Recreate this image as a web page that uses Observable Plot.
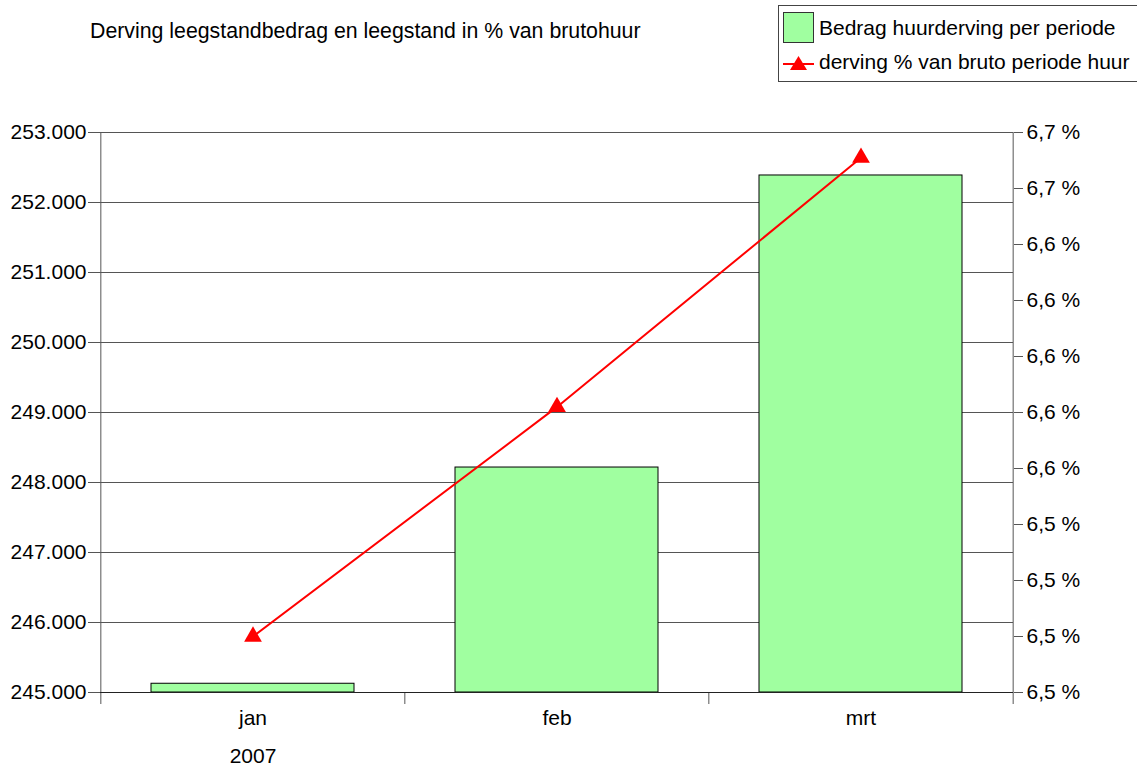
<!DOCTYPE html>
<html>
<head>
<meta charset="utf-8">
<script src="https://cdn.jsdelivr.net/npm/d3@7"></script>
<script src="https://cdn.jsdelivr.net/npm/@observablehq/plot@0.6"></script>
<style>
  html, body { margin: 0; padding: 0; background: #fff; }
  body { width: 1137px; height: 767px; position: relative; overflow: hidden; font-family: "Liberation Sans", Arial, sans-serif; }
  #title { position: absolute; left: 90px; top: 19px; font-size: 21.3px; color: #000; white-space: nowrap; }
  #legend { position: absolute; left: 778px; top: 5px; width: 370px; height: 77px; border: 1px solid #444; box-sizing: border-box; background: #fff; }
  .lrow { position: absolute; left: 4px; height: 32px; display: flex; align-items: center; font-size: 21px; white-space: nowrap; }
  #chart { position: absolute; left: 0; top: 0; }
</style>
</head>
<body>
<div id="chart"></div>
<div id="title"></div>
<div id="legend"></div>
<script>
// ---- data ----
const months = ["jan", "feb", "mrt"];
const amounts = [245125, 248214, 252386];
const percents = [6.500, 6.582, 6.671];
const yearLabel = "2007";
const leftTicks = [245000, 246000, 247000, 248000, 249000, 250000, 251000, 252000, 253000];
const rightTicks = [6.48, 6.50, 6.52, 6.54, 6.56, 6.58, 6.60, 6.62, 6.64, 6.66, 6.68];
const titleText = "Derving leegstandbedrag en leegstand in % van brutohuur";
const seriesNames = ["Bedrag huurderving per periode", "derving % van bruto periode huur"];

// ---- layout ----
const W = 1137, H = 767;
const mL = 100, mR = 124, mT = 132, mB = 75;
const step = (W - mL - mR) / months.length;
const yMin = leftTicks[0], yMax = leftTicks[leftTicks.length - 1];
const pMin = rightTicks[0], pMax = rightTicks[rightTicks.length - 1];
const pctToY = p => yMin + (p - pMin) / (pMax - pMin) * (yMax - yMin);

const data = months.map((m, i) => ({month: m, amount: amounts[i], pct: percents[i]}));

const fmtLeft = d => d3.format(",")(d).replace(/,/g, ".");
const fmtRight = (d, i) => (Math.round(rightTicks[i] * 10) / 10).toFixed(1).replace(".", ",") + " %";

const gridColor = "#555";

const chart = Plot.plot({
  width: W, height: H,
  marginLeft: mL, marginRight: mR, marginTop: mT, marginBottom: mB,
  style: {fontFamily: "'Liberation Sans', Arial, sans-serif", fontSize: "21px", color: "#000", background: "transparent"},
  x: {domain: months, paddingInner: 1/3, paddingOuter: 1/6, axis: null},
  y: {domain: [yMin, yMax], axis: null},
  marks: [
    Plot.gridY(leftTicks, {stroke: gridColor, strokeOpacity: 1, strokeWidth: 1}),
    Plot.axisY(leftTicks, {anchor: "left", label: null, tickSize: 12, tickPadding: 2, tickFormat: fmtLeft, stroke: gridColor, strokeOpacity: 1, fontSize: 21}),
    Plot.axisY(rightTicks.map(pctToY), {anchor: "right", label: null, tickSize: 9, tickPadding: 4, tickFormat: fmtRight, stroke: gridColor, strokeOpacity: 1, fontSize: 21}),
    Plot.barY(data, {x: "month", y1: yMin, y2: "amount", fill: "#a0ffa0", stroke: "#000", strokeWidth: 1}),
    Plot.ruleX([months[0]], {x: d => d, dx: -step / 2, insetBottom: -12, stroke: gridColor}),
    Plot.ruleX([months[months.length - 1]], {x: d => d, dx: step / 2, insetBottom: -12, stroke: gridColor}),
    Plot.ruleX(months.slice(1), {x: d => d, dx: -step / 2, y1: yMin, y2: yMin, insetBottom: -12, stroke: gridColor}),
    Plot.ruleY([yMin], {stroke: "#222"}),
    Plot.axisX({label: null, tickSize: 0, tickPadding: 18, fontSize: 21}),
    Plot.text([yearLabel], {x: () => months[0], frameAnchor: "bottom", dy: 70, text: d => d, fontSize: 21, fill: "#000"}),
    Plot.line(data, {x: "month", y: d => pctToY(d.pct), stroke: "#ff0000", strokeWidth: 2}),
    Plot.dot(data, {x: "month", y: d => pctToY(d.pct), symbol: "triangle", r: 6.6, fill: "#ff0000", stroke: "none"})
  ]
});
document.getElementById("chart").appendChild(chart);
document.getElementById("title").textContent = titleText;

// ---- legend ----
const legend = document.getElementById("legend");
const row1 = document.createElement("div");
row1.className = "lrow"; row1.style.top = "6px";
row1.innerHTML = `<svg width="36" height="32"><rect x="0.5" y="0.5" width="30" height="30" fill="#a0ffa0" stroke="#333"/></svg><span></span>`;
row1.querySelector("span").textContent = seriesNames[0];
legend.appendChild(row1);
const row2 = document.createElement("div");
row2.className = "lrow"; row2.style.top = "40px";
row2.innerHTML = `<svg width="36" height="32"><line x1="0" x2="31" y1="18" y2="18" stroke="#ff0000" stroke-width="2"/><path d="M15.5,10 L24,24 L7,24 Z" fill="#ff0000"/></svg><span></span>`;
row2.querySelector("span").textContent = seriesNames[1];
legend.appendChild(row2);
</script>
</body>
</html>
